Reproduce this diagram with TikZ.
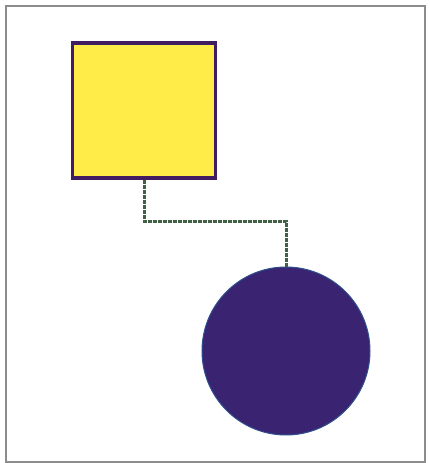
\documentclass[tikz,border=0pt]{standalone}
\usetikzlibrary{calc}
\definecolor{sqfill}{RGB}{255,236,72}
\definecolor{sqline}{RGB}{66,28,96}
\definecolor{circfill}{RGB}{58,36,114}
\definecolor{conn}{RGB}{66,96,70}
\definecolor{framec}{RGB}{140,140,140}
\tikzset{
  sqbox/.style={draw=sqline, fill=sqfill, line width=3.4pt, rectangle, inner sep=0pt, minimum width=143pt, minimum height=135pt},
  disc/.style={draw=circfill!80!cyan, fill=circfill, line width=1pt, circle, inner sep=0pt, minimum size=168pt},
  connline/.style={draw=conn, line width=3pt, dash pattern=on 2pt off 0.5pt},
  framel/.style={draw=framec, line width=1.4pt}
}
\begin{document}
\begin{tikzpicture}[x=1pt,y=-1pt]
\useasboundingbox (0,0) rectangle (429,463);
\draw[framel] (6,463) -- (6,6) -- (425,6) -- (425,463);
\draw[framel] (6,462) -- (425,462);
\node[sqbox] (sq) at (144,110.5) {};
\node[disc] (circ) at (286,351) {};
\coordinate (bend) at (144,221);
\draw[connline] (sq.south) -- (bend) -| (circ.north);
\end{tikzpicture}
\end{document}
